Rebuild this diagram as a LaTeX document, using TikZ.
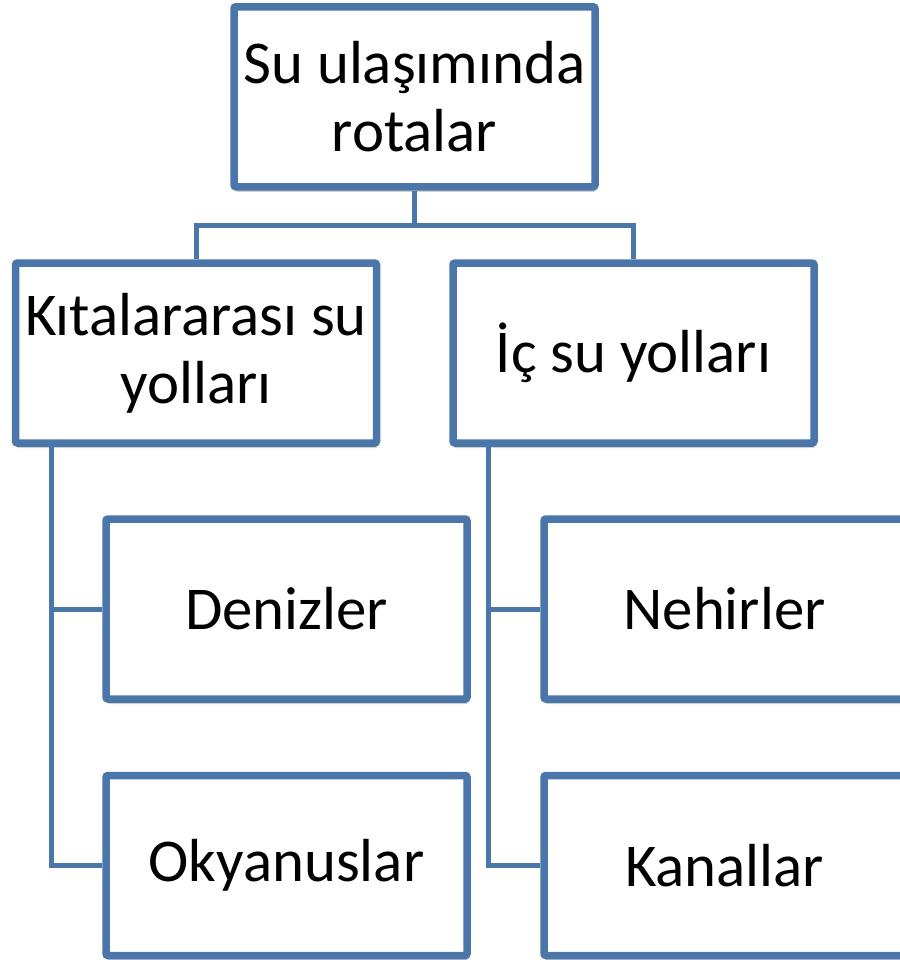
\documentclass[tikz,border=0pt]{standalone}
\usepackage{fontspec}
\setmainfont{Carlito}
\definecolor{KutuMavi}{RGB}{74,118,170}
\usetikzlibrary{shadows, positioning}

\begin{document}
\begin{tikzpicture}[x=0.5pt, y=-0.5pt,
	kutu/.style={draw=KutuMavi, line width=3.75pt, fill=white, rounded corners=1pt,
		minimum width=180.5pt, minimum height=90pt, align=center, inner sep=0pt,
		font=\fontsize{30.4pt}{34.2pt}\selectfont,
		drop shadow={shadow xshift=0.6pt, shadow yshift=-2.5pt, opacity=0.3, fill=black!60}},
	bag/.style={draw=KutuMavi, line width=2.5pt}]

	\path[use as bounding box, fill=white] (0,0) rectangle (900,960);

	\node[kutu] (kok) at (414.5,96.75) {Su ulaşımında\\rotalar};
	\node[kutu] (kita) at (196,353) {Kıtalararası su\\yolları};
	\node[kutu] (ic) at (633.5,353) {İç su yolları};
	\foreach \ad/\x/\y/\yazi in {deniz/286.5/609/Denizler, okyanus/286.5/865.5/Okyanuslar,
	                             nehir/724.5/609/Nehirler, kanal/724.5/865.5/Kanallar}{
		\node[kutu] (\ad) at (\x,\y) {\yazi};
	}

	% kökten iki ana dala
	\coordinate (dal) at (414.5,225);
	\draw[bag] (kok) -- (dal) -| (kita);
	\draw[bag] (dal) -| (ic);
	\foreach \ust/\alt in {kita/deniz, kita/okyanus, ic/nehir, ic/kanal}{
		\draw[bag] ([xshift=19.75pt]\ust.south west) |- (\alt);
	}
\end{tikzpicture}
\end{document}
